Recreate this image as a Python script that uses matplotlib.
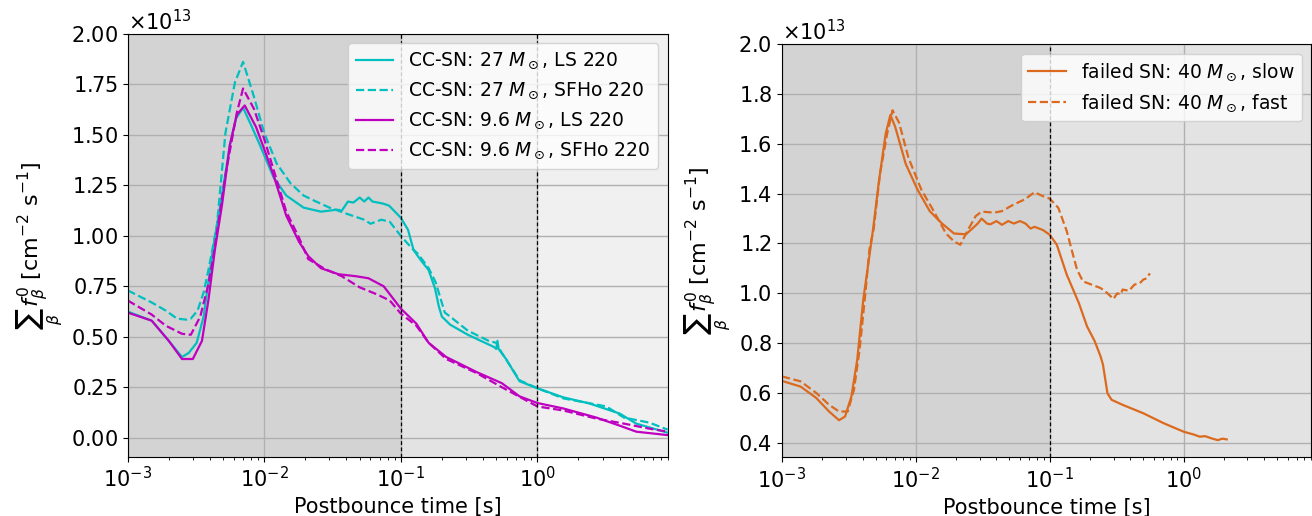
import numpy as np
import matplotlib
matplotlib.use('Agg')
import matplotlib.pyplot as plt

# values are in units of 1e13 cm^-2 s^-1
scale = 1e13

# CC-SN 27 Msun, LS 220
t_27_ls = [1.0e-3, 1.5e-3, 2.0e-3, 2.5e-3, 2.8e-3, 3.2e-3, 3.6e-3, 4.2e-3, 4.9e-3, 5.6e-3,
           6.2e-3, 7.0e-3, 8.0e-3, 9.3e-3, 1.17e-2, 1.45e-2, 1.94e-2, 2.6e-2, 3.0e-2, 3.4e-2,
           3.7e-2, 4.1e-2, 4.5e-2, 5.0e-2, 5.4e-2, 5.8e-2, 6.2e-2, 6.8e-2, 7.4e-2, 8.2e-2,
           0.1, 0.113, 0.124, 0.14, 0.16, 0.178, 0.19, 0.2, 0.23, 0.31,
           0.48, 0.50, 0.51, 0.52, 0.59, 0.74, 1.0, 1.55, 2.4, 4.0, 5.3, 9.0]
v_27_ls = [0.625, 0.58, 0.48, 0.40, 0.42, 0.47, 0.60, 0.93, 1.20, 1.45,
           1.58, 1.635, 1.55, 1.45, 1.29, 1.20, 1.14, 1.12, 1.125, 1.13,
           1.125, 1.17, 1.165, 1.19, 1.17, 1.19, 1.17, 1.165, 1.16, 1.15,
           1.09, 1.03, 0.93, 0.88, 0.83, 0.74, 0.65, 0.60, 0.56, 0.51,
           0.45, 0.44, 0.48, 0.44, 0.39, 0.28, 0.245, 0.20, 0.17, 0.12, 0.07, 0.025]

# CC-SN 27 Msun, SFHo 220
t_27_sfho = [1.0e-3, 1.5e-3, 1.9e-3, 2.3e-3, 2.7e-3, 2.9e-3, 3.25e-3, 3.6e-3, 3.9e-3, 4.5e-3,
             5.2e-3, 6.1e-3, 7.0e-3, 8.4e-3, 1.0e-2, 1.23e-2, 1.56e-2, 1.94e-2, 2.4e-2, 3.0e-2,
             4.0e-2, 5.4e-2, 6.0e-2, 7.2e-2, 8.3e-2, 0.1, 0.12, 0.134, 0.16, 0.18,
             0.21, 0.23, 0.31, 0.44, 0.50, 0.51, 0.55, 0.74, 1.0, 1.55,
             3.2, 4.3, 6.6, 9.0]
v_27_sfho = [0.73, 0.67, 0.63, 0.59, 0.585, 0.59, 0.63, 0.72, 0.83, 1.05,
             1.51, 1.76, 1.862, 1.69, 1.51, 1.36, 1.26, 1.20, 1.17, 1.14,
             1.11, 1.08, 1.06, 1.08, 1.07, 1.00, 0.94, 0.91, 0.84, 0.77,
             0.62, 0.60, 0.53, 0.48, 0.47, 0.46, 0.42, 0.285, 0.245, 0.195,
             0.155, 0.10, 0.075, 0.04]

# CC-SN 9.6 Msun, LS 220
t_96_ls = [1.0e-3, 1.5e-3, 2.0e-3, 2.5e-3, 3.0e-3, 3.5e-3, 3.9e-3, 4.35e-3, 4.9e-3, 5.6e-3,
           6.3e-3, 7.2e-3, 8.7e-3, 1.0e-2, 1.17e-2, 1.45e-2, 1.8e-2, 2.1e-2, 2.6e-2, 3.5e-2,
           4.7e-2, 5.8e-2, 7.5e-2, 0.1, 0.13, 0.16, 0.215, 0.36, 0.55, 0.74,
           1.0, 1.55, 2.7, 4.0, 5.3, 9.0]
v_96_ls = [0.62, 0.58, 0.48, 0.39, 0.39, 0.48, 0.68, 0.93, 1.15, 1.45,
           1.60, 1.646, 1.54, 1.43, 1.30, 1.10, 0.97, 0.90, 0.84, 0.81,
           0.80, 0.79, 0.75, 0.64, 0.565, 0.47, 0.40, 0.325, 0.27, 0.205,
           0.172, 0.145, 0.10, 0.06, 0.03, 0.013]

# CC-SN 9.6 Msun, SFHo 220
t_96_sfho = [1.0e-3, 1.5e-3, 1.9e-3, 2.5e-3, 2.9e-3, 3.4e-3, 3.9e-3, 4.2e-3, 5.2e-3, 6.3e-3,
             7.0e-3, 8.4e-3, 1.0e-2, 1.23e-2, 1.45e-2, 1.8e-2, 2.1e-2, 2.8e-2, 3.7e-2, 5.0e-2,
             6.7e-2, 8.3e-2, 0.1, 0.13, 0.16, 0.215, 0.36, 0.55, 1.0, 1.55,
             2.7, 4.3, 6.6, 9.0]
v_96_sfho = [0.68, 0.61, 0.555, 0.515, 0.51, 0.60, 0.76, 0.88, 1.30, 1.61,
             1.73, 1.63, 1.48, 1.28, 1.12, 0.99, 0.885, 0.835, 0.80, 0.745,
             0.71, 0.68, 0.615, 0.555, 0.47, 0.39, 0.32, 0.25, 0.155, 0.135,
             0.095, 0.07, 0.045, 0.03]

# failed SN 40 Msun, slow
t_40_slow = [1.0e-3, 1.38e-3, 1.8e-3, 2.25e-3, 2.67e-3, 2.96e-3, 3.3e-3, 3.65e-3, 4.05e-3, 4.5e-3,
             4.8e-3, 5.3e-3, 5.95e-3, 6.45e-3, 7.0e-3, 8.4e-3, 1.03e-2, 1.27e-2, 1.57e-2, 1.93e-2,
             2.37e-2, 2.9e-2, 3.1e-2, 3.4e-2, 3.6e-2, 4.0e-2, 4.4e-2, 4.9e-2, 5.4e-2, 6.0e-2,
             6.6e-2, 7.2e-2, 7.7e-2, 8.9e-2, 0.1, 0.113, 0.134, 0.165, 0.19, 0.217,
             0.24, 0.25, 0.27, 0.29, 0.35, 0.5, 0.71, 1.0, 1.2, 1.32,
             1.45, 1.62, 1.8, 1.95, 2.1]
v_40_slow = [0.648, 0.625, 0.58, 0.525, 0.49, 0.505, 0.585, 0.733, 0.975, 1.15,
             1.26, 1.45, 1.64, 1.716, 1.67, 1.52, 1.416, 1.33, 1.28, 1.24,
             1.237, 1.28, 1.30, 1.28, 1.277, 1.29, 1.275, 1.29, 1.28, 1.29,
             1.28, 1.26, 1.267, 1.254, 1.235, 1.195, 1.075, 0.961, 0.867, 0.807,
             0.746, 0.713, 0.598, 0.572, 0.552, 0.518, 0.478, 0.444, 0.432, 0.424,
             0.426, 0.417, 0.41, 0.416, 0.413]

# failed SN 40 Msun, fast
t_40_fast = [1.0e-3, 1.38e-3, 1.8e-3, 2.25e-3, 2.67e-3, 3.1e-3, 3.45e-3, 3.8e-3, 4.2e-3, 4.5e-3,
             4.85e-3, 5.4e-3, 6.1e-3, 6.7e-3, 7.5e-3, 8.8e-3, 1.1e-2, 1.36e-2, 1.68e-2, 1.93e-2,
             2.15e-2, 2.37e-2, 2.8e-2, 3.1e-2, 3.85e-2, 4.4e-2, 5.4e-2, 6.5e-2, 7.7e-2, 8.9e-2,
             0.1, 0.116, 0.134, 0.149, 0.16, 0.177, 0.205, 0.24, 0.27, 0.3,
             0.31, 0.32, 0.34, 0.35, 0.39, 0.43, 0.47, 0.5, 0.53, 0.56]
v_40_fast = [0.666, 0.646, 0.60, 0.552, 0.525, 0.525, 0.612, 0.773, 1.0, 1.176,
             1.26, 1.48, 1.64, 1.735, 1.685, 1.545, 1.416, 1.33, 1.24, 1.208,
             1.195, 1.24, 1.31, 1.328, 1.324, 1.33, 1.357, 1.377, 1.406, 1.39,
             1.38, 1.343, 1.25, 1.156, 1.095, 1.048, 1.035, 1.021, 1.0, 0.977,
             0.99, 1.0, 0.995, 1.015, 1.01, 1.035, 1.04, 1.055, 1.06, 1.08]

cyan = '#00bfbf'
magenta = '#bf00bf'
orange = '#db6a1f'

plt.rcParams['font.size'] = 15

fig = plt.figure(figsize=(13.12, 5.16), dpi=100)
ax1 = fig.add_axes([0.0973, 0.1149, 0.4116, 0.8192])
ax2 = fig.add_axes([0.596, 0.1137, 0.4035, 0.8004])

# left panel: CC-SNe
ax1.axvspan(1e-3, 0.1, color='#d3d3d3', zorder=0, lw=0)
ax1.axvspan(0.1, 1.0, color='#e3e3e3', zorder=0, lw=0)
ax1.axvspan(1.0, 9.0, color='#f0f0f0', zorder=0, lw=0)
ax1.plot(t_27_ls, np.array(v_27_ls) * scale, color=cyan, lw=1.6, label=r'CC-SN: 27 $M_\odot$, LS 220')
ax1.plot(t_27_sfho, np.array(v_27_sfho) * scale, color=cyan, lw=1.6, ls='--', label=r'CC-SN: 27 $M_\odot$, SFHo 220')
ax1.plot(t_96_ls, np.array(v_96_ls) * scale, color=magenta, lw=1.6, label=r'CC-SN: 9.6 $M_\odot$, LS 220')
ax1.plot(t_96_sfho, np.array(v_96_sfho) * scale, color=magenta, lw=1.6, ls='--', label=r'CC-SN: 9.6 $M_\odot$, SFHo 220')
ax1.axvline(0.1, color='k', ls='--', lw=0.9, dashes=(3, 2))
ax1.axvline(1.0, color='k', ls='--', lw=0.9, dashes=(3, 2))
ax1.set_xscale('log')
ax1.set_xlim(1e-3, 9.0)
ax1.set_ylim(-0.094 * scale, 2.0 * scale)
ax1.set_yticks(np.arange(0, 2.01, 0.25) * scale)

# right panel: failed SN
ax2.axvspan(1e-3, 0.1, color='#d3d3d3', zorder=0, lw=0)
ax2.axvspan(0.1, 9.0, color='#e3e3e3', zorder=0, lw=0)
ax2.plot(t_40_slow, np.array(v_40_slow) * scale, color=orange, lw=1.6, label=r'failed SN: 40 $M_\odot$, slow')
ax2.plot(t_40_fast, np.array(v_40_fast) * scale, color=orange, lw=1.6, ls='--', label=r'failed SN: 40 $M_\odot$, fast')
ax2.axvline(0.1, color='k', ls='--', lw=0.9, dashes=(3, 2))
ax2.set_xscale('log')
ax2.set_xlim(1e-3, 9.0)
ax2.set_ylim(0.341 * scale, 2.0 * scale)
ax2.set_yticks(np.arange(0.4, 2.01, 0.2) * scale)

for ax in (ax1, ax2):
    ax.set_axisbelow(True)
    ax.grid(True, color='#b0b0b0', lw=1.0)
    ax.ticklabel_format(axis='y', style='sci', scilimits=(0, 0), useMathText=True)
    ax.tick_params(labelsize=15)
    ax.yaxis.get_offset_text().set_fontsize(15)
    ax.set_xlabel('Postbounce time [s]', fontsize=15)
    ax.set_ylabel(r'$\sum_\beta\, f^0_\beta$ [cm$^{-2}$ s$^{-1}$]', fontsize=16)
    ax.legend(loc='upper right', fontsize=13.5)

fig.savefig('out.png', dpi=100)
